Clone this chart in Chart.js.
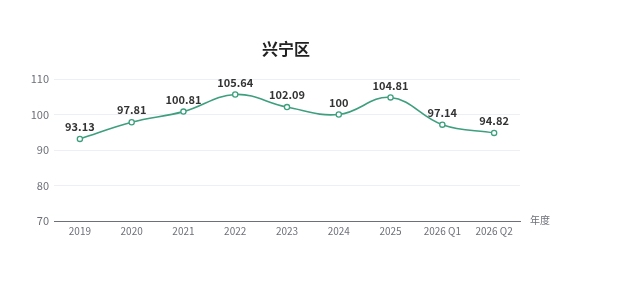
<!DOCTYPE html>
<html>
<head>
<meta charset="utf-8">
<script src="https://cdn.jsdelivr.net/npm/chart.js@4/dist/chart.umd.min.js"></script>
<style>
  html, body { margin: 0; padding: 0; background: #fff; }
  #wrap { width: 618px; height: 284px; }
</style>
</head>
<body>
<div id="wrap"><canvas id="chart" width="618" height="284"></canvas></div>
<script>
const categories = ['2019', '2020', '2021', '2022', '2023', '2024', '2025', '2026 Q1', '2026 Q2'];
const indexValues = [93.13, 97.81, 100.81, 105.64, 102.09, 100, 104.81, 97.14, 94.82];
const yTicks = [70, 80, 90, 100, 110];
const chartTitle = '兴宁区';
const xAxisName = '年度';

const FONT = "'Noto Sans CJK SC', 'Noto Sans', sans-serif";
const lineColor = '#3d9f7d';

// title, labels above the points, axis name at the end of the x axis
const labelPlugin = {
    id: 'valueLabels',
    afterDatasetsDraw(chart) {
        const ctx = chart.ctx;
        const meta = chart.getDatasetMeta(0);
        ctx.save();
        ctx.font = 'bold 11px ' + FONT;
        ctx.fillStyle = '#333';
        ctx.textAlign = 'center';
        ctx.textBaseline = 'middle';
        meta.data.forEach((pt, i) => {
            ctx.fillText(String(indexValues[i]), pt.x, pt.y - 12);
        });

        const area = chart.chartArea;
        ctx.font = 'bold 16px ' + FONT;
        ctx.fillStyle = '#222';
        ctx.fillText(chartTitle, 286, 49);

        ctx.font = '10px ' + FONT;
        ctx.fillStyle = '#6e7079';
        ctx.textAlign = 'left';
        ctx.fillText(xAxisName, area.right + 10, area.bottom - 1);
        ctx.restore();
    }
};

const ctx = document.getElementById('chart').getContext('2d');
const chartInstance = new Chart(ctx, {
    type: 'line',
    data: {
        labels: categories,
        datasets: [{
            data: indexValues,
            borderColor: lineColor,
            borderWidth: 1.6,
            backgroundColor: '#fff',
            pointBackgroundColor: '#fff',
            pointBorderColor: lineColor,
            pointBorderWidth: 1.3,
            pointRadius: 2.6,
            tension: 0.4,
            fill: false
        }]
    },
    options: {
        responsive: false,
        animation: false,
        layout: {
            padding: { left: 0, right: 98, top: 79, bottom: 0 }
        },
        plugins: {
            legend: { display: false },
            tooltip: { enabled: false },
            title: { display: false }
        },
        scales: {
            x: {
                offset: true,
                grid: { display: true, color: 'rgba(0,0,0,0)', drawTicks: false },
                border: { display: true, color: '#6e7079', width: 1 },
                ticks: {
                    color: '#6e7079',
                    font: { family: FONT, size: 10 },
                    padding: 4,
                    maxRotation: 0,
                    autoSkip: false
                },
                afterFit(scale) { scale.height = 63; }
            },
            y: {
                min: yTicks[0],
                max: yTicks[yTicks.length - 1],
                afterBuildTicks(scale) {
                    scale.ticks = yTicks.map(v => ({ value: v }));
                },
                grid: { color: '#eceff4', drawTicks: false },
                border: { display: false },
                ticks: {
                    color: '#6e7079',
                    font: { family: FONT, size: 11 },
                    padding: 5
                },
                afterFit(scale) { scale.width = 54; }
            }
        }
    },
    plugins: [labelPlugin]
});
</script>
</body>
</html>
